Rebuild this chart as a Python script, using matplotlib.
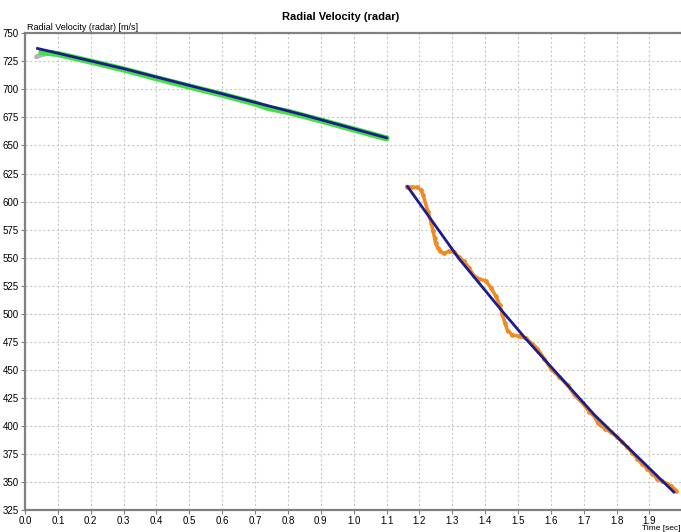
import matplotlib.pyplot as plt
import numpy as np

# gray start-up samples
gray_t = [0.035, 0.045, 0.055, 0.065, 0.075, 0.085]
gray_v = [729.0, 730.3, 731.2, 731.8, 732.2, 732.5]

# green measured track (first segment)
green_t = [0.05, 0.1, 0.2, 0.3, 0.4, 0.5, 0.6, 0.7, 0.74, 0.8, 0.9, 1.0, 1.1]
green_v = [733.3, 731.5, 724.8, 717.8, 710.0, 702.5, 695.3, 687.5, 683.5, 680.0, 672.3, 664.3, 656.3]

# blue fit, first segment
fit1_t = [0.038, 0.3, 0.6, 0.85, 1.1]
fit1_v = [736.5, 718.5, 696.0, 677.0, 656.8]

# orange measured track (second segment)
orange_t = [1.162, 1.178, 1.193, 1.205, 1.211, 1.226, 1.236, 1.242, 1.246, 1.249,
            1.256, 1.264, 1.274, 1.290, 1.305, 1.320, 1.335, 1.351, 1.366, 1.381,
            1.402, 1.417, 1.432, 1.445, 1.452, 1.460, 1.468, 1.483, 1.503, 1.524,
            1.544, 1.559, 1.580, 1.600, 1.626, 1.651, 1.672, 1.697, 1.717, 1.733,
            1.742, 1.751, 1.765, 1.782, 1.802, 1.817, 1.832, 1.848, 1.863, 1.878,
            1.893, 1.908, 1.923, 1.938, 1.954, 1.965, 1.974, 1.980]
orange_v = [613.3, 612.7, 612.7, 610.3, 605.9, 591.1, 580.8, 573.4, 567.5, 563.1,
            558.7, 555.7, 553.7, 555.7, 554.8, 550.7, 546.9, 541.0, 533.6, 531.2,
            529.2, 523.3, 515.9, 507.6, 499.6, 492.1, 484.9, 481.0, 479.9, 478.1,
            473.1, 468.7, 459.8, 450.9, 443.6, 436.2, 427.3, 420.0, 412.6, 408.1,
            403.0, 400.4, 397.5, 394.4, 390.0, 385.5, 381.1, 376.0, 370.7, 366.0,
            361.9, 357.5, 353.0, 350.5, 348.5, 346.5, 344.1, 342.0]

# blue fit, second segment
fit2_t = [1.164, 1.320, 1.447, 1.524, 1.733, 1.974]
fit2_v = [613.3, 549.2, 504.0, 477.5, 409.6, 341.0]

xticks = np.round(np.arange(0, 2.0, 0.1), 1)
yticks = np.arange(325, 751, 25)

fnt = 'Liberation Sans'
gray = '#808080'

fig = plt.figure(figsize=(6.81, 5.32), dpi=100)
ax = fig.add_axes([25 / 681, 1 - 510 / 532, 1 - 25 / 681 + 0.002, (510 - 33.3) / 532])

ax.plot(gray_t, gray_v, color='#b4b4b4', lw=3.5, solid_capstyle='round', zorder=3)
ax.plot(green_t, green_v, color='#44e044', lw=4.5, solid_capstyle='round', zorder=3)
ax.plot(fit1_t, fit1_v, color='#1c1c8c', lw=2, zorder=4)
ax.plot(orange_t, orange_v, color='#f08a24', lw=2.5, marker='o', ms=3.4, mew=0, zorder=3)
ax.plot(fit2_t, fit2_v, color='#1c1c8c', lw=2, zorder=4)

ax.set_xlim(0, 2.0)
ax.set_ylim(325, 750)
ax.set_xticks(xticks)
ax.set_yticks(yticks)
ax.set_xticklabels(['%.1f' % v for v in xticks], fontsize=7, family=fnt)
ax.set_yticklabels([str(v) for v in yticks], fontsize=7, family=fnt)
ax.tick_params(length=3, width=0.8, color=gray, pad=1.5)

ax.grid(True, color='#c8c8c8', linestyle=(0, (2, 2)), lw=0.8)
ax.set_axisbelow(True)

for s in ['left', 'bottom', 'top']:
    ax.spines[s].set_color(gray)
    ax.spines[s].set_linewidth(1.6)
ax.spines['right'].set_visible(False)

fig.text(0.5, 1 - 17 / 532, 'Radial Velocity (radar)', ha='center', va='center',
         fontsize=8, fontweight='bold', family=fnt)
fig.text(27 / 681, 1 - 27 / 532, 'Radial Velocity (radar) [m/s]', ha='left', va='center',
         fontsize=6.5, family=fnt)
fig.text(680 / 681, 1 - 528.5 / 532, 'Time [sec]', ha='right', va='center',
         fontsize=6, family=fnt)

fig.savefig('out.png', dpi=100)
